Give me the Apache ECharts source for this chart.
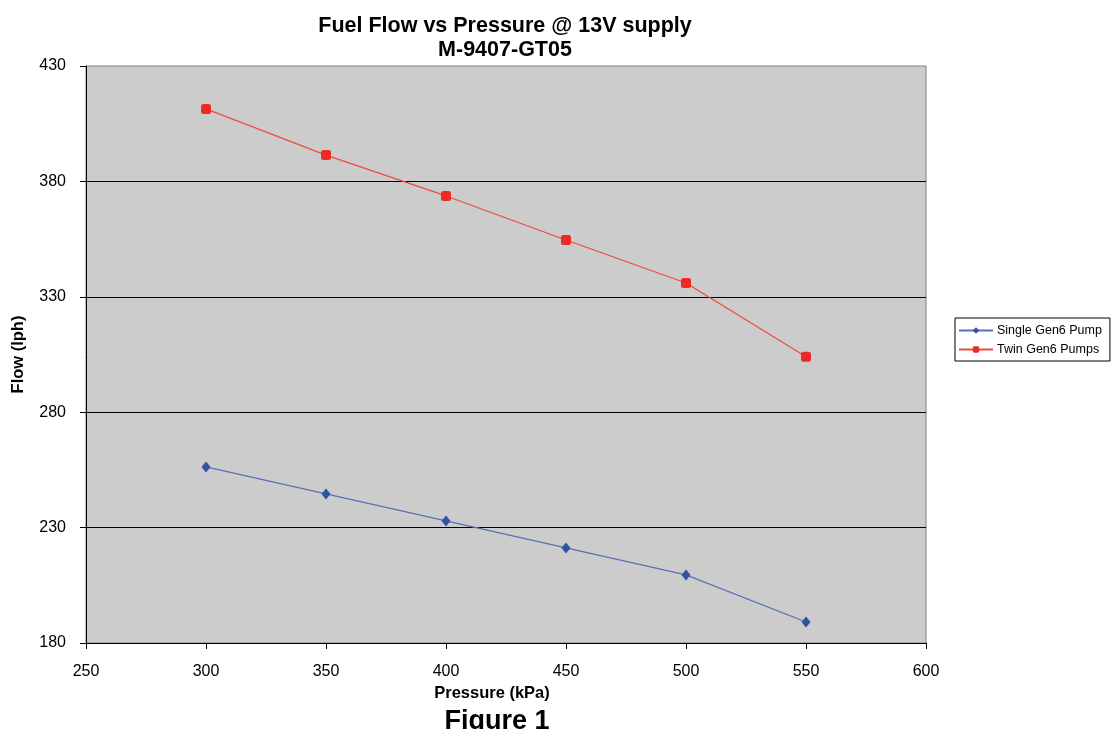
<!DOCTYPE html>
<html>
<head>
<meta charset="utf-8">
<script src="https://cdn.jsdelivr.net/npm/echarts@6/dist/echarts.min.js"></script>
<style>html,body{margin:0;padding:0;background:#fff}#c{width:1112px;height:729px}</style>
</head>
<body>
<div id="c"></div>
<script>
var pressures = [300, 350, 400, 450, 500, 550];
var singleFlow = [256.3, 244.6, 232.9, 221.2, 209.5, 189.1];
var twinFlow = [411.4, 391.4, 373.7, 354.6, 336.0, 304.0];
var xTicks = [250, 300, 350, 400, 450, 500, 550, 600];
var yTicks = [180, 230, 280, 330, 380, 430];

function pairs(xs, ys) { return xs.map(function (x, i) { return [x, ys[i]]; }); }

var chart = echarts.init(document.getElementById('c'));
var F = 'Liberation Sans, Arial, sans-serif';
chart.setOption({
  animation: false,
  backgroundColor: '#ffffff',
  textStyle: { fontFamily: F },
  title: [
    { text: 'Fuel Flow vs Pressure @ 13V supply\nM-9407-GT05', left: 500, top: 9, textAlign: 'center',
      textStyle: { fontFamily: F, fontSize: 21.5, fontWeight: 'bold', color: '#000', lineHeight: 24 } },
    { text: 'Figure 1', left: 492, top: 703, textAlign: 'center',
      textStyle: { fontFamily: F, fontSize: 27, fontWeight: 'bold', color: '#000' } }
  ],
  grid: { left: 86, right: 186, top: 66, bottom: 86, show: true, backgroundColor: '#cccccc', borderColor: '#808080', borderWidth: 1 },
  legend: {
    orient: 'vertical', left: 955, top: 318,
    itemWidth: 34, itemHeight: 8, itemGap: 6, padding: [6, 8, 5, 3],
    borderColor: '#000', borderWidth: 1, backgroundColor: '#fff',
    textStyle: { fontFamily: F, fontSize: 12.5, color: '#000', padding: [0, 0, 0, -1] },
    data: ['Single Gen6 Pump', 'Twin Gen6 Pumps']
  },
  xAxis: {
    type: 'value', min: xTicks[0], max: xTicks[xTicks.length - 1], interval: 50,
    name: 'Pressure (kPa)', nameLocation: 'middle', nameGap: 41,
    nameTextStyle: { fontFamily: F, fontSize: 16.5, fontWeight: 'bold', color: '#000', padding: [0, 28, 0, 0] },
    axisLine: { show: true, lineStyle: { color: '#000', width: 1 } },
    axisTick: { show: true, length: 6, lineStyle: { color: '#000' } },
    axisLabel: { fontFamily: F, fontSize: 16, color: '#000', margin: 21 },
    splitLine: { show: false }
  },
  yAxis: {
    type: 'value', min: yTicks[0], max: yTicks[yTicks.length - 1], interval: 50,
    name: 'Flow (lph)', nameLocation: 'middle', nameGap: 59,
    nameTextStyle: { fontFamily: F, fontSize: 16.5, fontWeight: 'bold', color: '#000' },
    axisLine: { show: true, lineStyle: { color: '#000', width: 1 } },
    axisTick: { show: true, length: 6, lineStyle: { color: '#000' } },
    axisLabel: { fontFamily: F, fontSize: 16, color: '#000', margin: 20 },
    splitLine: { show: true, showMaxLine: false, lineStyle: { color: '#000', width: 1 } }
  },
  series: [
    { name: 'Single Gen6 Pump', type: 'line', data: pairs(pressures, singleFlow),
      symbol: 'diamond', symbolSize: [9, 11],
      itemStyle: { color: '#3352a4' }, lineStyle: { color: '#5a6fb5', width: 1.2 } },
    { name: 'Twin Gen6 Pumps', type: 'line', data: pairs(pressures, twinFlow),
      symbol: 'roundRect', symbolSize: 10,
      itemStyle: { color: '#ee2a24' }, lineStyle: { color: '#ef4a3f', width: 1.2 } }
  ]
});
</script>
</body>
</html>
